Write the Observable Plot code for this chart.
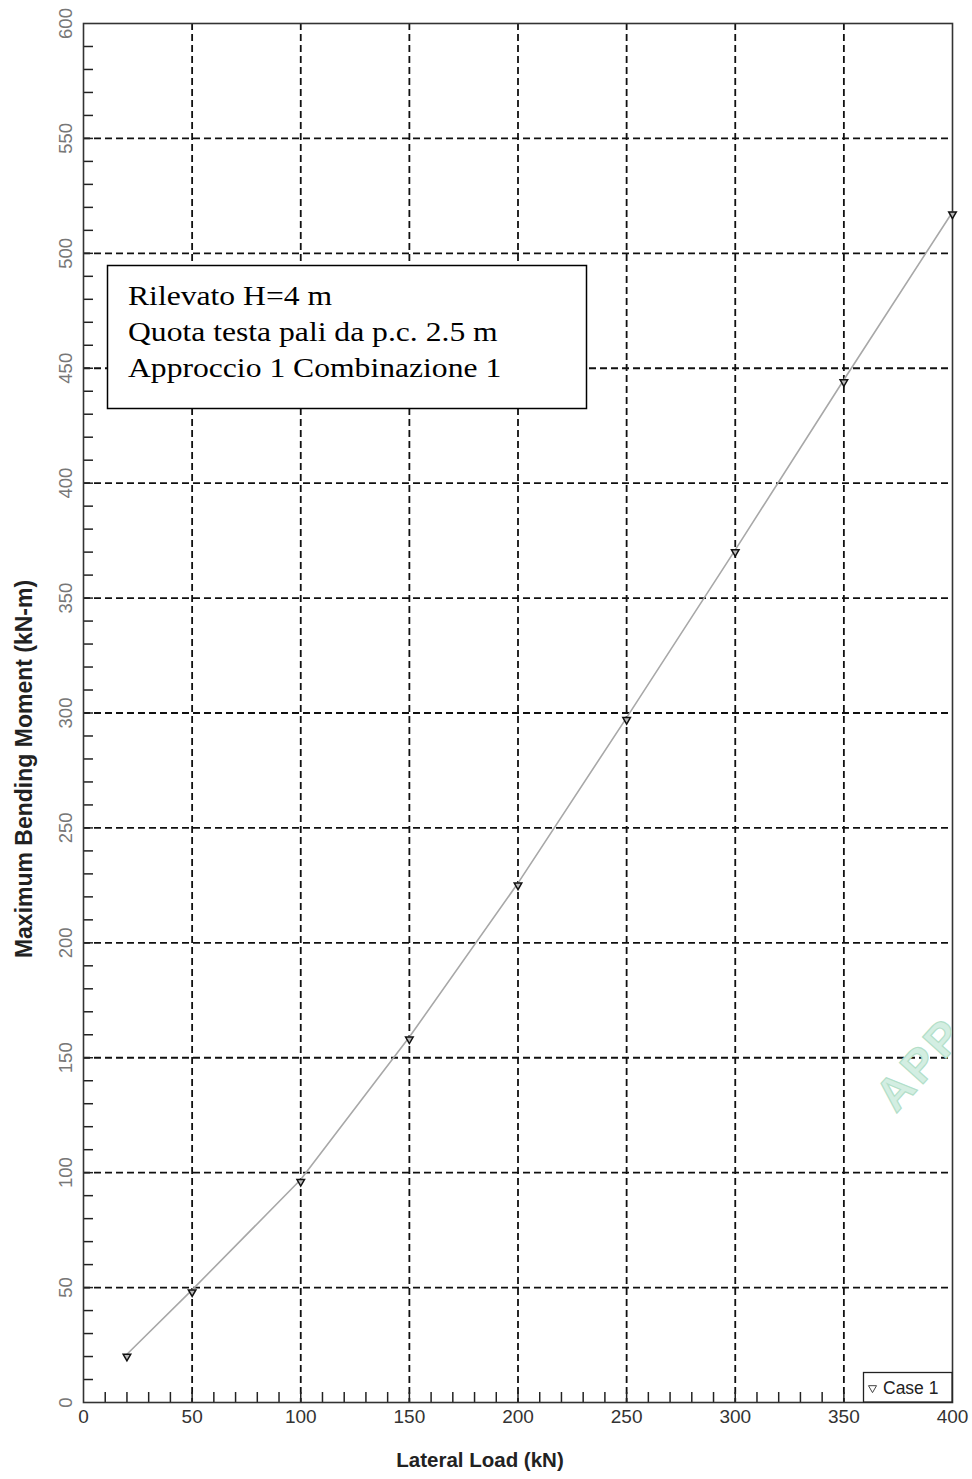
<!DOCTYPE html>
<html>
<head>
<meta charset="utf-8">
<script src="https://cdn.jsdelivr.net/npm/d3@7"></script>
<script src="https://cdn.jsdelivr.net/npm/@observablehq/plot@0.6"></script>
<style>
  html, body { margin: 0; padding: 0; background: #ffffff; }
  #wrap { position: relative; width: 972px; height: 1479px; overflow: hidden; }
  #wrap > svg { position: absolute; left: 0; top: 0; }
</style>
</head>
<body>
<div id="wrap"></div>
<script>
// ---- data ----
const lateralLoad = [20, 50, 100, 150, 200, 250, 300, 350, 400];          // kN
const maxMoment   = [21, 49, 97, 159, 226, 298, 371, 445, 518];           // kN-m
const seriesName  = "Case 1";

const xTickLabels = [0, 50, 100, 150, 200, 250, 300, 350, 400];
const yTickLabels = [0, 50, 100, 150, 200, 250, 300, 350, 400, 450, 500, 550, 600];
const xGridLines  = [50, 100, 150, 200, 250, 300, 350];
const yGridLines  = [50, 100, 150, 200, 250, 300, 350, 400, 450, 500, 550];
const xMinorTicks = d3.range(10, 400, 10);
const yMinorTicks = d3.range(10, 600, 10);

const xTitle = "Lateral Load (kN)";
const yTitle = "Maximum Bending Moment (kN-m)";
const noteLines = ["Rilevato H=4 m", "Quota testa pali da p.c. 2.5 m", "Approccio 1 Combinazione 1"];

const data = lateralLoad.map((x, i) => ({x, y: maxMoment[i]}));

// ---- layout ----
const W = 972, H = 1479;
const mL = 83, mR = 20, mT = 23, mB = 77;
const plotW = W - mL - mR, plotH = H - mT - mB;
const sans = "'Liberation Sans', Arial, Helvetica, sans-serif";
const serif = "'Liberation Serif', 'Times New Roman', serif";

const chart = Plot.plot({
  width: W, height: H,
  marginLeft: mL, marginRight: mR, marginTop: mT, marginBottom: mB,
  x: {domain: [0, 400], axis: null},
  y: {domain: [0, 600], axis: null},
  style: {fontFamily: sans, background: "transparent"},
  marks: [
    Plot.ruleX(xGridLines, {x: d => d, stroke: "#111", strokeWidth: 1.8, strokeDasharray: "7,4"}),
    Plot.ruleY(yGridLines, {y: d => d, stroke: "#111", strokeWidth: 1.8, strokeDasharray: "7,4"}),
    Plot.tickX(xMinorTicks, {x: d => d, insetTop: plotH - 10, stroke: "#222", strokeWidth: 1.5}),
    Plot.tickY(yMinorTicks, {y: d => d, insetRight: plotW - 10, stroke: "#222", strokeWidth: 1.5}),
    Plot.frame({stroke: "#333", strokeWidth: 1.6}),
    Plot.line(data, {x: "x", y: "y", stroke: "#a8a8a8", strokeWidth: 1.6}),
    Plot.dot(data, {x: "x", y: "y", symbol: "triangle", rotate: 180, r: 2.8, dy: 2.2,
                    stroke: "#111", strokeWidth: 1.5, fill: "#bbbbbb"}),
    Plot.text(xTickLabels, {x: d => d, frameAnchor: "bottom", dy: 20, text: d => String(d),
                            fontSize: 19, fill: "#333", textAnchor: "middle"}),
    Plot.text(yTickLabels, {y: d => d, frameAnchor: "left", dx: -17, text: d => String(d),
                            rotate: -90, fontSize: 18.5, fill: "#777", textAnchor: "middle"}),
    Plot.text([xTitle], {frameAnchor: "bottom", dx: -38, dy: 64, text: d => d, textAnchor: "middle",
                         fontSize: 20.5, fontWeight: "bold", fill: "#222"}),
    Plot.text([yTitle], {frameAnchor: "left", dx: -59, dy: 56, text: d => d, rotate: -90, textAnchor: "middle",
                         fontSize: 23, fontWeight: "bold", fill: "#222"})
  ]
});
document.getElementById("wrap").appendChild(chart);

// ---- overlay annotations (note box, legend, watermark) ----
const ov = d3.select("#wrap").append("svg")
  .attr("width", W).attr("height", H)
  .style("pointer-events", "none");

// note box
ov.append("rect").attr("x", 107.5).attr("y", 265.5).attr("width", 479).attr("height", 143)
  .attr("fill", "#fff").attr("stroke", "#000").attr("stroke-width", 1.5);
const baselines = [305, 340.5, 377];
noteLines.forEach((t, i) => {
  ov.append("text").attr("transform", `translate(128,${baselines[i]}) scale(1.13,1)`)
    .attr("font-family", serif).attr("font-size", 28).attr("fill", "#000").text(t);
});

// legend box
ov.append("rect").attr("x", 863.5).attr("y", 1372.5).attr("width", 88.5).attr("height", 29.5)
  .attr("fill", "#fff").attr("stroke", "#222").attr("stroke-width", 1.3);
ov.append("path").attr("d", d3.symbol(d3.symbolTriangle, 28)())
  .attr("transform", "translate(872.5,1388) rotate(180)")
  .attr("fill", "none").attr("stroke", "#444").attr("stroke-width", 1);
ov.append("text").attr("x", 883).attr("y", 1394).attr("font-family", sans).attr("font-size", 17.5)
  .attr("fill", "#222").text(seriesName);

// watermark (partially visible at the right edge, as in the reference)
ov.append("text").attr("transform", "translate(896,1114) rotate(-48)")
  .attr("font-family", sans).attr("font-weight", "bold").attr("font-size", 46)
  .attr("letter-spacing", 4).attr("fill", "#d3eee2").attr("stroke", "#b3dfc9").attr("stroke-width", 1.2)
  .text("APP");
</script>
</body>
</html>
